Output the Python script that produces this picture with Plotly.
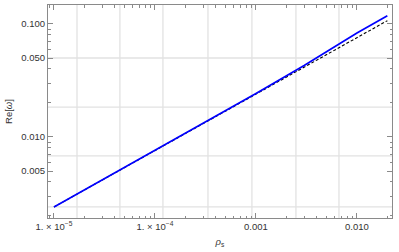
import plotly.graph_objects as go

# data
rho_full = [1e-5, 1e-4, 1e-3, 3e-3, 1e-2, 2e-2]
omega_full = [0.0024, 0.0076, 0.0243, 0.0430, 0.0832, 0.118]
rho_approx = [1e-5, 1e-4, 1e-3, 1e-2, 2e-2]
omega_approx = [0.0024, 0.0076, 0.0240, 0.0762, 0.1070]

x_tickvals = [1e-5, 1e-4, 1e-3, 1e-2]
x_ticktext = ["1. \u00d7 10<sup>\u22125</sup>", "1. \u00d7 10<sup>\u22124</sup>", "0.001", "0.010"]
y_tickvals = [0.005, 0.01, 0.05, 0.1]
y_ticktext = ["0.005", "0.010", "0.050", "0.100"]

# grid line positions (log10) as drawn in the reference
x_grid_log = [-4.772, -4.347, -3.921, -3.475, -3.040, -2.604, -2.178]
y_grid_log = [-2.619, -2.168, -1.735, -1.301]

x_range = [-5.059, -1.653]
y_range = [-2.717, -0.832]

frame = "#8a8a8a"
gridc = "#e2e2e2"
font = dict(family="Liberation Sans, Arial, sans-serif", size=9.5, color="#333333")

fig = go.Figure()
fig.add_trace(go.Scatter(x=rho_approx, y=omega_approx, mode="lines",
                         line=dict(color="black", width=1.1, dash="3px,2px"),
                         showlegend=False))
fig.add_trace(go.Scatter(x=rho_full, y=omega_full, mode="lines",
                         line=dict(color="#0000ff", width=1.7),
                         showlegend=False))

shapes = []
for g in x_grid_log:
    shapes.append(dict(type="line", xref="x", yref="paper", x0=10 ** g, x1=10 ** g, y0=0, y1=1,
                       line=dict(color=gridc, width=1.3), layer="below"))
for g in y_grid_log:
    shapes.append(dict(type="line", xref="paper", yref="y", x0=0, x1=1, y0=10 ** g, y1=10 ** g,
                       line=dict(color=gridc, width=1.3), layer="below"))

fig.update_layout(
    width=399, height=252,
    margin=dict(l=48, r=7, t=5, b=34),
    paper_bgcolor="white", plot_bgcolor="white",
    font=font,
    shapes=shapes,
    xaxis=dict(type="log", range=x_range,
               tickvals=x_tickvals, ticktext=x_ticktext, ticks="inside", ticklen=5,
               tickcolor=frame, showgrid=False, zeroline=False,
               showline=True, linecolor=frame, linewidth=1, mirror="allticks",
               minor=dict(ticks="inside", ticklen=2.5, tickcolor=frame, dtick="D1", showgrid=False),
               title=dict(text="<i>\u03c1</i><sub>s</sub>", standoff=6, font=font)),
    yaxis=dict(type="log", range=y_range,
               tickvals=y_tickvals, ticktext=y_ticktext, ticks="inside", ticklen=5,
               tickcolor=frame, showgrid=False, zeroline=False,
               showline=True, linecolor=frame, linewidth=1, mirror="allticks",
               minor=dict(ticks="inside", ticklen=2.5, tickcolor=frame, dtick="D1", showgrid=False),
               title=dict(text="Re[<i>\u03c9</i>]", standoff=6, font=font)),
)

fig.write_html("out.html", config={"displayModeBar": False},
               post_script="document.body.style.margin='0';")
